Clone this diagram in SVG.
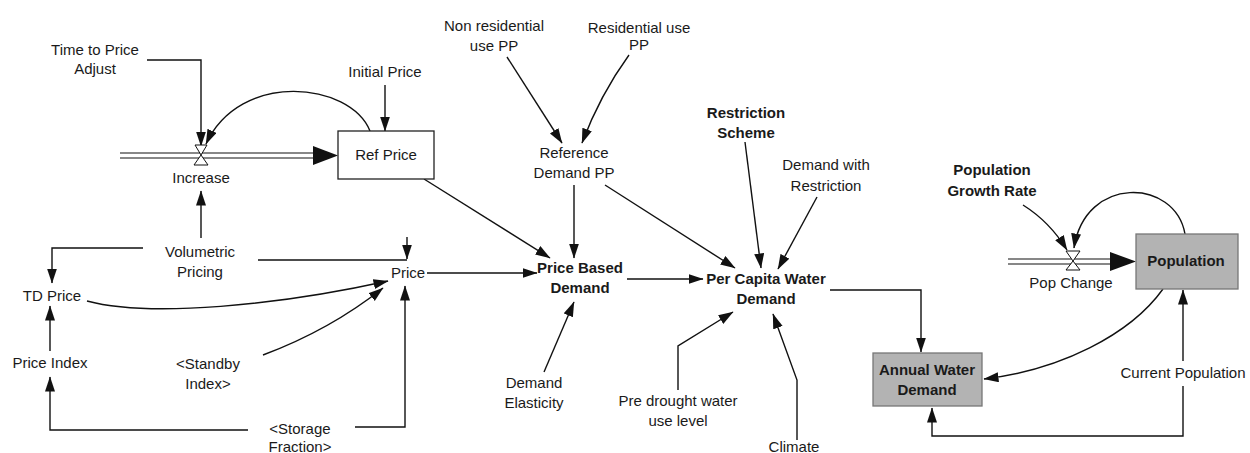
<svg xmlns="http://www.w3.org/2000/svg" width="1250" height="453" viewBox="0 0 1250 453">
<style>
text{font-family:"Liberation Sans",Arial,sans-serif;font-size:15px;fill:#1a1a1a;text-anchor:middle}
.b{font-weight:bold}
.ln{fill:none;stroke:#111;stroke-width:1.4}
.ar{fill:none;stroke:#111;stroke-width:1.4;marker-end:url(#ah)}
.pipe{fill:none;stroke:#111;stroke-width:1.2}
.valve{fill:#fff;stroke:#111;stroke-width:1}
.box{fill:#fff;stroke:#222;stroke-width:1.3}
.gbox{fill:#b3b3b3;stroke:#777;stroke-width:1.3}
</style>
<defs>
<marker id="ah" markerUnits="userSpaceOnUse" markerWidth="16" markerHeight="11" refX="14.5" refY="5" orient="auto">
<path d="M0,0 L15,5 L0,10 z" fill="#111"/>
</marker>
</defs>
<rect width="1250" height="453" fill="#fff"/>

<g id="connectors">
<line class="pipe" x1="120" y1="153" x2="316" y2="153"/>
<line class="pipe" x1="120" y1="158" x2="316" y2="158"/>
<path d="M313,146 L338,155.5 L313,165 z" fill="#111"/>
<line class="pipe" x1="1008" y1="259" x2="1112" y2="259"/>
<line class="pipe" x1="1008" y1="264" x2="1112" y2="264"/>
<path d="M1110,252 L1136,261.5 L1110,271 z" fill="#111"/>
<polyline class="ar" points="147,60 201,60 201,146"/>
<line class="ar" x1="385" y1="85" x2="385" y2="131"/>
<path class="ar" d="M370,131 C350,82 240,70 206,144"/>
<line class="ar" x1="201" y1="238" x2="201" y2="191"/>
<polyline class="ar" points="143,248 52,248 52,283"/>
<polyline class="ln" points="258,260 407,260"/>
<line class="ar" x1="407" y1="237" x2="407" y2="259"/>
<line class="ar" x1="50" y1="351" x2="50" y2="306"/>
<polyline class="ar" points="248,430 50,430 50,377"/>
<polyline class="ar" points="355,427 405,427 405,286"/>
<path class="ar" d="M87,301 C150,318 280,305 388,281"/>
<path class="ar" d="M263,355 Q330,330 383,288"/>
<line class="ar" x1="427" y1="273" x2="537" y2="273"/>
<line class="ar" x1="424" y1="179" x2="550" y2="258"/>
<line class="ar" x1="574" y1="185" x2="574" y2="258"/>
<line class="ar" x1="507" y1="57" x2="562" y2="143"/>
<path class="ar" d="M629,55 Q600,95 582,143"/>
<line class="ar" x1="605" y1="185" x2="735" y2="268"/>
<line class="ar" x1="745" y1="142" x2="761" y2="268"/>
<line class="ar" x1="817" y1="197" x2="778" y2="269"/>
<line class="ar" x1="627" y1="279" x2="703" y2="279"/>
<line class="ar" x1="544" y1="372" x2="574" y2="302"/>
<polyline class="ar" points="678,390 678,346 733,312"/>
<polyline class="ar" points="797,440 797,380 773,314"/>
<polyline class="ar" points="830,290 921,290 921,352"/>
<path class="ar" d="M1163,289 C1130,335 1060,370 984,379"/>
<line class="ar" x1="1183" y1="361" x2="1183" y2="290"/>
<polyline class="ar" points="1183,386 1183,436 932,436 932,408"/>
<path class="ar" d="M1023,205 Q1050,222 1067,250"/>
<path class="ar" d="M1185,234 C1175,178 1085,175 1074,248"/>
</g>

<g id="increase">
<path class="valve" d="M195,145 L207,145 L201,155 z"/>
<path class="valve" d="M201,155 L194,165 L208,165 z"/>
<text x="201" y="183">Increase</text>
</g>
<g id="pop-change">
<path class="valve" d="M1066,251 L1080,251 L1073,261 z"/>
<path class="valve" d="M1073,261 L1066,270 L1080,270 z"/>
<text x="1071" y="288">Pop Change</text>
</g>
<g id="ref-price">
<rect class="box" x="338" y="131" width="96" height="48"/>
<text x="386" y="160">Ref Price</text>
</g>
<g id="population">
<rect class="gbox" x="1136" y="234" width="102" height="55"/>
<text class="b" x="1186" y="266">Population</text>
</g>
<g id="annual-water-demand">
<rect class="gbox" x="873" y="353" width="109" height="53"/>
<text class="b" x="927" y="375">Annual Water</text>
<text class="b" x="927" y="395">Demand</text>
</g>
<g id="time-to-price-adjust"><text x="95" y="55">Time to Price</text><text x="95" y="74">Adjust</text></g>
<g id="initial-price"><text x="385" y="77">Initial Price</text></g>
<g id="non-residential"><text x="494" y="31">Non residential</text><text x="494" y="51">use PP</text></g>
<g id="residential"><text x="639" y="33">Residential use</text><text x="639" y="50">PP</text></g>
<g id="reference-demand"><text x="574" y="158">Reference</text><text x="574" y="178">Demand PP</text></g>
<g id="restriction-scheme"><text class="b" x="746" y="118">Restriction</text><text class="b" x="746" y="138">Scheme</text></g>
<g id="demand-with-restriction"><text x="826" y="170">Demand with</text><text x="826" y="191">Restriction</text></g>
<g id="population-growth-rate"><text class="b" x="992" y="175">Population</text><text class="b" x="992" y="196">Growth Rate</text></g>
<g id="volumetric-pricing"><text x="200" y="257">Volumetric</text><text x="200" y="277">Pricing</text></g>
<g id="td-price"><text x="52" y="301">TD Price</text></g>
<g id="price"><text x="408" y="278">Price</text></g>
<g id="price-index"><text x="50" y="368">Price Index</text></g>
<g id="standby-index"><text x="208" y="369">&lt;Standby</text><text x="208" y="389">Index&gt;</text></g>
<g id="storage-fraction"><text x="300" y="434">&lt;Storage</text><text x="300" y="452">Fraction&gt;</text></g>
<g id="price-based-demand"><text class="b" x="580" y="273">Price Based</text><text class="b" x="580" y="293">Demand</text></g>
<g id="per-capita-water-demand"><text class="b" x="766" y="284">Per Capita Water</text><text class="b" x="766" y="304">Demand</text></g>
<g id="demand-elasticity"><text x="534" y="388">Demand</text><text x="534" y="408">Elasticity</text></g>
<g id="pre-drought"><text x="678" y="406">Pre drought water</text><text x="678" y="426">use level</text></g>
<g id="climate"><text x="794" y="452">Climate</text></g>
<g id="current-population"><text x="1183" y="378">Current Population</text></g>
</svg>
